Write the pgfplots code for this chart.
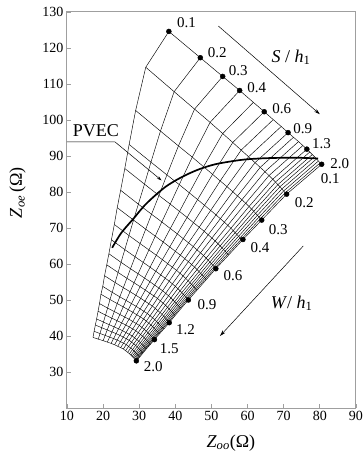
\documentclass[border=0pt]{standalone}
\usepackage{fontspec}
\setmainfont{Liberation Serif}
\usepackage{pgfplots}
\pgfplotsset{compat=1.18}
\usepackage{pgfplotstable}
\usetikzlibrary{arrows.meta}

\pgfplotstableread{
s w x y
1 1 38.2 124.6
1 2 31.8 114.65
1 3 29.0 102.65
1 4 27.2 93.2
1 5 26.0 86.53
1 6 24.85 80.48
1 7 23.9 75.65
1 8 23.1 70.98
1 9 22.3 66.73
1 10 21.6 62.85
1 11 21.0 59.78
1 12 20.4 56.75
1 13 19.9 53.78
1 14 19.4 51.6
1 15 19.0 49.0
1 16 18.6 46.88
1 17 18.2 44.75
1 18 17.85 43.05
1 19 17.5 41.3
1 20 17.2 39.6
2 1 46.9 117.3
2 2 39.66 107.87
2 3 35.87 96.92
2 4 33.24 88.29
2 5 31.45 82.18
2 6 29.75 76.62
2 7 28.42 72.2
2 8 27.15 67.91
2 9 26.0 64.0
2 10 24.96 60.46
2 11 24.14 57.64
2 12 23.32 54.85
2 13 22.51 52.13
2 14 21.9 50.13
2 15 21.24 47.76
2 16 20.66 45.8
2 17 20.08 43.86
2 18 19.61 42.3
2 19 19.13 40.69
2 20 18.67 39.13
3 1 53.1 112.1
3 2 45.31 103.02
3 3 40.85 92.8
3 4 37.66 84.75
3 5 35.46 79.03
3 6 33.4 73.82
3 7 31.79 69.68
3 8 30.24 65.66
3 9 28.85 62.0
3 10 27.58 58.68
3 11 26.59 56.04
3 12 25.6 53.43
3 13 24.62 50.88
3 14 23.9 49.01
3 15 23.09 46.78
3 16 22.39 44.96
3 17 21.7 43.14
3 18 21.13 41.68
3 19 20.56 40.17
3 20 20.0 38.7
4 1 57.8 108.2
4 2 49.61 99.34
4 3 44.68 89.68
4 4 41.08 82.05
4 5 38.58 76.64
4 6 36.25 71.68
4 7 34.43 67.74
4 8 32.68 63.91
4 9 31.1 60.44
4 10 29.68 57.28
4 11 28.57 54.78
4 12 27.46 52.3
4 13 26.36 49.87
4 14 25.56 48.09
4 15 24.64 45.98
4 16 23.86 44.25
4 17 23.08 42.52
4 18 22.45 41.13
4 19 21.8 39.7
4 20 21.17 38.3
5 1 61.6 104.9
5 2 53.1 96.24
5 3 47.79 87.04
5 4 43.87 79.76
5 5 41.15 74.6
5 6 38.6 69.86
5 7 36.63 66.1
5 8 34.72 62.44
5 9 32.99 59.11
5 10 31.46 56.1
5 11 30.25 53.7
5 12 29.04 51.33
5 13 27.85 49.01
5 14 26.97 47.3
5 15 25.97 45.29
5 16 25.13 43.64
5 17 24.28 42.0
5 18 23.6 40.66
5 19 22.9 39.29
5 20 22.21 37.95
6 1 64.6 102.3
6 2 55.89 93.75
6 3 50.3 84.9
6 4 46.15 77.9
6 5 43.24 72.94
6 6 40.54 68.36
6 7 38.44 64.73
6 8 36.41 61.2
6 9 34.58 57.99
6 10 32.95 55.08
6 11 31.67 52.76
6 12 30.4 50.48
6 13 29.14 48.24
6 14 28.22 46.59
6 15 27.16 44.66
6 16 26.26 43.07
6 17 25.37 41.47
6 18 24.63 40.18
6 19 23.9 38.86
6 20 23.17 37.57
7 1 67.1 100.1
7 2 58.21 91.64
7 3 52.41 83.08
7 4 48.06 76.3
7 5 45.01 71.49
7 6 42.18 67.04
7 7 40.0 63.52
7 8 37.87 60.09
7 9 35.94 56.97
7 10 34.25 54.15
7 11 32.91 51.9
7 12 31.58 49.68
7 13 30.26 47.51
7 14 29.31 45.91
7 15 28.2 44.03
7 16 27.26 42.49
7 17 26.33 40.95
7 18 25.56 39.69
7 19 24.8 38.41
7 20 24.04 37.15
8 1 69.3 98.2
8 2 60.27 89.79
8 3 54.28 81.49
8 4 49.77 74.89
8 5 46.6 70.21
8 6 43.65 65.88
8 7 41.39 62.45
8 8 39.17 59.11
8 9 37.18 56.06
8 10 35.42 53.32
8 11 34.04 51.14
8 12 32.66 48.97
8 13 31.29 46.85
8 14 30.3 45.29
8 15 29.15 43.47
8 16 28.19 41.96
8 17 27.23 40.47
8 18 26.43 39.24
8 19 25.64 37.99
8 20 24.85 36.76
9 1 71.2 96.5
9 2 62.05 88.16
9 3 55.91 80.06
9 4 51.25 73.64
9 5 47.98 69.08
9 6 44.95 64.85
9 7 42.61 61.49
9 8 40.33 58.23
9 9 38.28 55.25
9 10 36.47 52.57
9 11 35.05 50.44
9 12 33.63 48.32
9 13 32.23 46.26
9 14 31.21 44.73
9 15 30.03 42.95
9 16 29.04 41.49
9 17 28.05 40.02
9 18 27.22 38.81
9 19 26.41 37.6
9 20 25.6 36.4
10 1 72.7 95.2
10 2 63.48 86.84
10 3 57.21 78.9
10 4 52.45 72.58
10 5 49.09 68.11
10 6 45.99 63.93
10 7 43.6 60.64
10 8 41.28 57.42
10 9 39.17 54.48
10 10 37.32 51.85
10 11 35.86 49.75
10 12 34.43 47.66
10 13 32.99 45.62
10 14 31.95 44.13
10 15 30.73 42.38
10 16 29.72 40.93
10 17 28.71 39.49
10 18 27.88 38.3
10 19 27.05 37.11
10 20 26.22 35.92
11 1 74.1 94.0
11 2 64.79 85.65
11 3 58.41 77.84
11 4 53.56 71.62
11 5 50.12 67.21
11 6 46.95 63.1
11 7 44.51 59.85
11 8 42.13 56.67
11 9 39.99 53.78
11 10 38.1 51.18
11 11 36.61 49.11
11 12 35.14 47.05
11 13 33.69 45.05
11 14 32.62 43.57
11 15 31.39 41.85
11 16 30.35 40.42
11 17 29.32 39.0
11 18 28.47 37.83
11 19 27.63 36.65
11 20 26.78 35.48
12 1 75.3 92.9
12 2 65.92 84.57
12 3 59.46 76.88
12 4 54.51 70.75
12 5 51.02 66.41
12 6 47.78 62.34
12 7 45.31 59.14
12 8 42.89 56.0
12 9 40.7 53.15
12 10 38.78 50.58
12 11 37.27 48.55
12 12 35.79 46.51
12 13 34.3 44.53
12 14 33.23 43.07
12 15 31.97 41.38
12 16 30.92 39.97
12 17 29.87 38.57
12 18 29.01 37.41
12 19 28.15 36.25
12 20 27.29 35.09
13 1 76.4 91.9
13 2 66.96 83.56
13 3 60.4 75.98
13 4 55.37 69.93
13 5 51.8 65.64
13 6 48.52 61.63
13 7 46.0 58.46
13 8 43.53 55.36
13 9 41.31 52.55
13 10 39.36 50.0
13 11 37.83 47.99
13 12 36.31 45.99
13 13 34.81 44.03
13 14 33.71 42.59
13 15 32.43 40.91
13 16 31.37 39.52
13 17 30.3 38.14
13 18 29.43 37.0
13 19 28.55 35.84
13 20 27.68 34.7
14 1 77.2 91.1
14 2 67.71 82.76
14 3 61.09 75.26
14 4 56.0 69.27
14 5 52.39 65.03
14 6 49.08 61.05
14 7 46.54 57.9
14 8 44.04 54.83
14 9 41.78 52.04
14 10 39.82 49.52
14 11 38.27 47.53
14 12 36.75 45.54
14 13 35.21 43.59
14 14 34.12 42.17
14 15 32.82 40.51
14 16 31.75 39.13
14 17 30.67 37.76
14 18 29.79 36.63
14 19 28.9 35.48
14 20 28.02 34.35
15 1 77.9 90.4
15 2 68.37 82.05
15 3 61.7 74.63
15 4 56.55 68.69
15 5 52.91 64.49
15 6 49.56 60.54
15 7 46.98 57.43
15 8 44.46 54.37
15 9 42.19 51.6
15 10 40.21 49.1
15 11 38.65 47.12
15 12 37.1 45.15
15 13 35.56 43.22
15 14 34.45 41.81
15 15 33.15 40.16
15 16 32.06 38.8
15 17 30.98 37.43
15 18 30.08 36.3
15 19 29.19 35.18
15 20 28.3 34.05
16 1 78.5 89.8
16 2 68.94 81.46
16 3 62.21 74.08
16 4 57.04 68.2
16 5 53.36 64.03
16 6 49.97 60.1
16 7 47.37 57.01
16 8 44.84 53.98
16 9 42.54 51.23
16 10 40.54 48.75
16 11 38.96 46.78
16 12 37.41 44.82
16 13 35.86 42.91
16 14 34.74 41.5
16 15 33.43 39.87
16 16 32.33 38.52
16 17 31.24 37.16
16 18 30.34 36.04
16 19 29.44 34.92
16 20 28.54 33.8
17 1 79.1 89.2
17 2 69.5 80.86
17 3 62.73 73.55
17 4 57.5 67.71
17 5 53.79 63.58
17 6 50.37 59.67
17 7 47.75 56.61
17 8 45.19 53.6
17 9 42.88 50.86
17 10 40.86 48.41
17 11 39.27 46.46
17 12 37.71 44.51
17 13 36.15 42.61
17 14 35.01 41.22
17 15 33.68 39.6
17 16 32.58 38.25
17 17 31.48 36.91
17 18 30.57 35.8
17 19 29.67 34.68
17 20 28.76 33.57
18 1 79.6 88.6
18 2 69.96 80.28
18 3 63.15 73.03
18 4 57.89 67.25
18 5 54.14 63.14
18 6 50.7 59.28
18 7 48.07 56.24
18 8 45.48 53.26
18 9 43.16 50.53
18 10 41.12 48.1
18 11 39.52 46.17
18 12 37.94 44.23
18 13 36.37 42.35
18 14 35.23 40.97
18 15 33.89 39.35
18 16 32.79 38.02
18 17 31.68 36.69
18 18 30.77 35.59
18 19 29.85 34.48
18 20 28.94 33.38
19 1 80.1 88.1
19 2 70.43 79.79
19 3 63.56 72.61
19 4 58.25 66.86
19 5 54.49 62.79
19 6 51.01 58.95
19 7 48.36 55.94
19 8 45.75 52.97
19 9 43.4 50.27
19 10 41.36 47.84
19 11 39.74 45.92
19 12 38.15 44.0
19 13 36.57 42.13
19 14 35.42 40.76
19 15 34.07 39.17
19 16 32.96 37.84
19 17 31.84 36.52
19 18 30.92 35.42
19 19 30.0 34.33
19 20 29.08 33.23
20 1 80.5 87.7
20 2 70.8 79.4
20 3 63.9 72.2
20 4 58.7 66.8
20 5 54.75 62.5
20 6 51.2 58.7
20 7 48.5 55.6
20 8 46.0 52.75
20 9 43.6 50.0
20 10 41.7 47.8
20 11 39.9 45.65
20 12 38.3 43.7
20 13 36.9 42.05
20 14 35.5 40.5
20 15 34.2 39.0
20 16 33.1 37.7
20 17 32.05 36.5
20 18 31.05 35.3
20 19 30.1 34.1
20 20 29.2 33.1
}\grid
\pgfplotstablecreatecol[create col/expr={\thisrow{w}*100+\thisrow{s}}]{key}{\grid}
\pgfplotstablesort[sort key=key]{\gridw}{\grid}

\begin{document}
\begin{tikzpicture}[
  lab/.style={anchor=west, inner sep=0pt, font=\fontsize{15}{17}\selectfont},
  ann/.style={font=\fontsize{18}{20}\selectfont, inner sep=0pt}]
\begin{axis}[
  scale only axis, width=289pt, height=396pt,
  xmin=10, xmax=90, ymin=20, ymax=130,
  xtick={10,20,...,90}, ytick={30,40,...,130},
  tick align=inside, xtick pos=bottom, ytick pos=left,
  major tick length=4pt,
  axis line style={draw=gray!75, line width=1pt},
  tick style={draw=gray!75, line width=0.8pt},
  ticklabel style={font=\fontsize{14}{16}\selectfont},
  /pgf/number format/assume math mode=true,
  xlabel={\textit{Z}\textsubscript{\textit{oo}}(Ω)},
  ylabel={\textit{Z}\textsubscript{\textit{oe}}\,(Ω)},
  label style={font=\fontsize{18}{20}\selectfont},
  xlabel style={at={(axis description cs:0.567,-0.0884)}, anchor=center},
  ylabel style={at={(axis description cs:-0.171,0.544)}, anchor=center},
  clip=false,
]
\coordinate (SW) at (rel axis cs:0,0);
\coordinate (NE) at (rel axis cs:1,1);
\pgfplotsinvokeforeach{1,...,20}{
  \addplot[black, line width=0.45pt, restrict expr to domain={\thisrow{s}}{#1:#1}] table[x=x,y=y] {\grid};
  \addplot[black, line width=0.45pt, restrict expr to domain={\thisrow{w}}{#1:#1}] table[x=x,y=y] {\gridw};
}
% PVEC curve
\addplot[black, line width=1.7pt, smooth] coordinates {
(22.5,64.5) (25,68.6) (28.4,72.6) (31.5,76.3) (34.8,79.4) (37.5,81.6) (40.4,83.4) (43.5,85.0) (46.8,86.4) (51,87.7) (56,88.6) (60,89.1) (65.3,89.4) (70,89.5) (74.5,89.5) (79.5,89.3)};
% dots on the W/h1 = 0.1 edge (S/h1 values)
\addplot[only marks, mark=*, mark size=2.5pt, black] coordinates {
(38.2,124.6) (46.9,117.3) (53.1,112.1) (57.8,108.2) (64.6,102.3) (71.2,96.5) (76.4,91.9) (80.5,87.7)};
% dots on the S/h1 = 2.0 edge (W/h1 values)
\addplot[only marks, mark=*, mark size=2.5pt, black] coordinates {
(70.8,79.4) (63.9,72.2) (58.7,66.8) (51.2,58.7) (43.6,50.0) (38.3,43.7) (34.2,39.0) (29.2,33.1)};
% S labels
\node[lab, xshift=8pt, yshift=9pt] at (axis cs:38.2,124.6) {0.1};
\node[lab, xshift=7.5pt, yshift=5pt] at (axis cs:46.9,117.3) {0.2};
\node[lab, xshift=6pt, yshift=6pt] at (axis cs:53.1,112.1) {0.3};
\node[lab, xshift=7.5pt, yshift=2.5pt] at (axis cs:57.8,108.2) {0.4};
\node[lab, xshift=8pt, yshift=3.3pt] at (axis cs:64.6,102.3) {0.6};
\node[lab, xshift=5pt, yshift=4.3pt] at (axis cs:71.2,96.5) {0.9};
\node[lab, xshift=5pt, yshift=6pt] at (axis cs:76.4,91.9) {1.3};
\node[lab, xshift=8.5pt, yshift=1pt] at (axis cs:80.5,87.7) {2.0};
% W labels
\node[lab, xshift=-1pt, yshift=-14pt] at (axis cs:80.5,87.7) {0.1};
\node[lab, xshift=8pt, yshift=-8pt] at (axis cs:70.8,79.4) {0.2};
\node[lab, xshift=7pt, yshift=-10pt] at (axis cs:63.9,72.2) {0.3};
\node[lab, xshift=7.5pt, yshift=-8.5pt] at (axis cs:58.7,66.8) {0.4};
\node[lab, xshift=7.5pt, yshift=-6.7pt] at (axis cs:51.2,58.7) {0.6};
\node[lab, xshift=9pt, yshift=-4.3pt] at (axis cs:43.6,50.0) {0.9};
\node[lab, xshift=6.8pt, yshift=-6.7pt] at (axis cs:38.3,43.7) {1.2};
\node[lab, xshift=5.3pt, yshift=-8.7pt] at (axis cs:34.2,39.0) {1.5};
\node[lab, xshift=7.3pt, yshift=-5.3pt] at (axis cs:29.2,33.1) {2.0};
% annotations
\draw[black, line width=0.5pt, -{Stealth[length=6pt,width=3.5pt]}] (axis cs:51.9,126.1) -- (axis cs:80.0,101.6);
\draw[black, line width=0.5pt, -{Stealth[length=6pt,width=3.5pt]}] (axis cs:75.4,65.0) -- (axis cs:52.35,40.0);
\draw[black, line width=0.5pt, -{Stealth[length=5pt,width=3pt]}] (axis cs:10,93.9) -- (axis cs:23.3,93.9) -- (axis cs:36.2,83.2);
\node[ann] at (axis cs:72.0,117.4) {\textit{S} / \textit{h}\textsubscript{1}};
\node[ann] at (axis cs:72.2,49.1) {\textit{W}/ \textit{h}\textsubscript{1}};
\node[ann] at (axis cs:18.0,96.9) {PVEC};
\end{axis}
\pgfresetboundingbox
\path ([shift={(-67pt,-47pt)}]SW) rectangle ([shift={(8pt,12pt)}]NE);
\end{tikzpicture}
\end{document}
